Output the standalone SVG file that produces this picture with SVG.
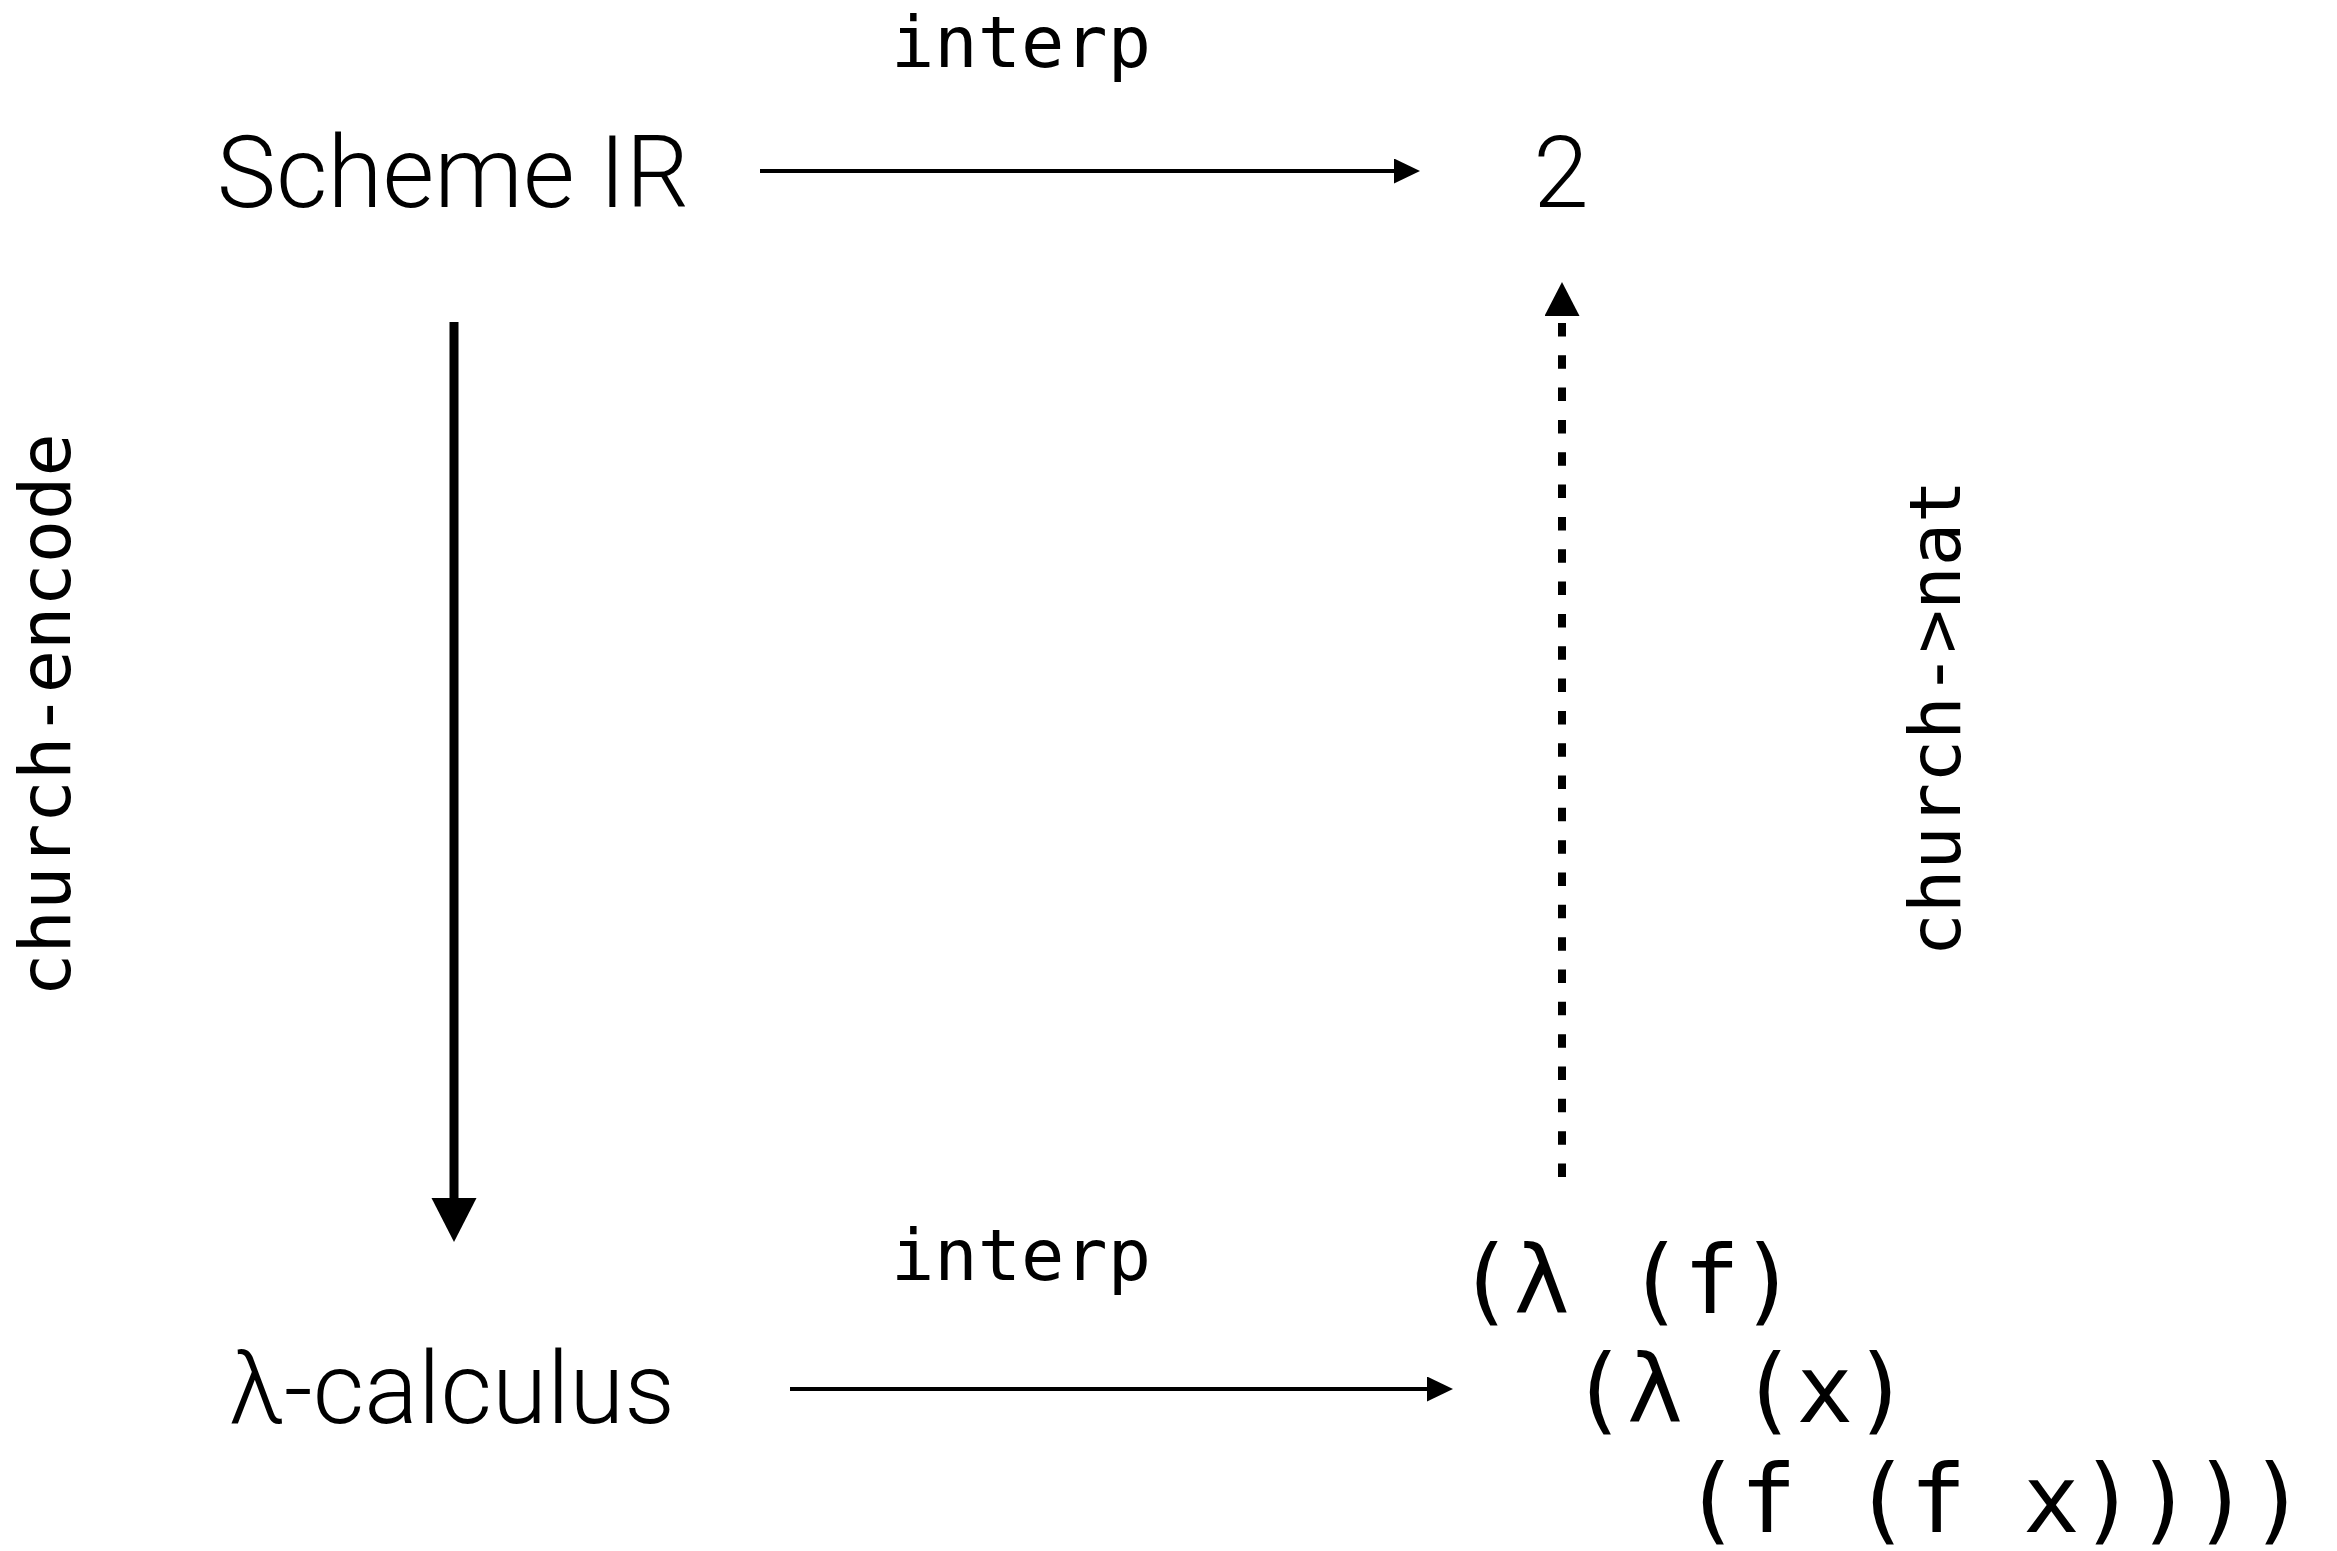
<svg xmlns="http://www.w3.org/2000/svg" width="2337" height="1551" viewBox="0 0 2337 1551">
  <style>
    .term { font-family: Roboto, "Liberation Sans", sans-serif; font-weight: 300; font-size: 100px; fill: #000; }
    .lbl { font-family: "DejaVu Sans Mono", "Liberation Mono", monospace; font-size: 72px; fill: #000; }
    .code { font-family: "DejaVu Sans Mono", "Liberation Mono", monospace; font-size: 94px; fill: #000; }
    .edge { fill: none; stroke: #000; }
  </style>
  <defs>
    <marker id="headThin" markerUnits="userSpaceOnUse" markerWidth="27" markerHeight="26" refX="0" refY="12.5" orient="auto" viewBox="0 0 27 26">
      <path d="M0,0 L26,12.5 L0,25 Z" fill="#000"/>
    </marker>
    <marker id="headThick" markerUnits="userSpaceOnUse" markerWidth="45" markerHeight="46" refX="0" refY="22.5" orient="auto" viewBox="0 0 45 46">
      <path d="M0,0 L44,22.5 L0,45 Z" fill="#000"/>
    </marker>
    <marker id="headDash" markerUnits="userSpaceOnUse" markerWidth="42" markerHeight="36" refX="-7" refY="17.5" orient="auto" viewBox="-7 0 42 36">
      <path d="M0,0 L34,17.5 L0,35 Z" fill="#000"/>
    </marker>
  </defs>
  <rect width="2337" height="1551" fill="#fff"/>

  <g id="connectors">
    <g id="edge-interp-top">
      <line class="edge" x1="760" y1="171" x2="1394" y2="171" stroke-width="4" marker-end="url(#headThin)"/>
      <text class="lbl" x="1021" y="67" text-anchor="middle">interp</text>
    </g>
    <g id="edge-church-encode">
      <line class="edge" x1="454" y1="322" x2="454" y2="1198" stroke-width="9" marker-end="url(#headThick)"/>
      <text class="lbl" transform="translate(70,715) rotate(-90)" x="0" y="0" text-anchor="middle">church-encode</text>
    </g>
    <g id="edge-church-nat">
      <line class="edge" x1="1562" y1="1177" x2="1562" y2="323" stroke-width="8" stroke-dasharray="13.5 18.83" marker-end="url(#headDash)"/>
      <text class="lbl" transform="translate(1960,718) rotate(-90)" x="0" y="0" text-anchor="middle">church-&gt;nat</text>
    </g>
    <g id="edge-interp-bottom">
      <line class="edge" x1="790" y1="1389" x2="1427" y2="1389" stroke-width="4" marker-end="url(#headThin)"/>
      <text class="lbl" x="1021" y="1280" text-anchor="middle">interp</text>
    </g>
  </g>

  <g id="node-scheme-ir">
    <text class="term" x="453" y="207" text-anchor="middle">Scheme IR</text>
  </g>
  <g id="node-two">
    <text class="term" x="1561" y="207" text-anchor="middle">2</text>
  </g>
  <g id="node-lambda-calculus">
    <text class="term" x="452" y="1423" text-anchor="middle">λ-calculus</text>
  </g>
  <g id="node-church-numeral">
    <text class="code" xml:space="preserve"><tspan x="1457" y="1313">(λ (f)</tspan><tspan x="1457" y="1422">  (λ (x)</tspan><tspan x="1457" y="1532">    (f (f x))))</tspan></text>
  </g>
</svg>
